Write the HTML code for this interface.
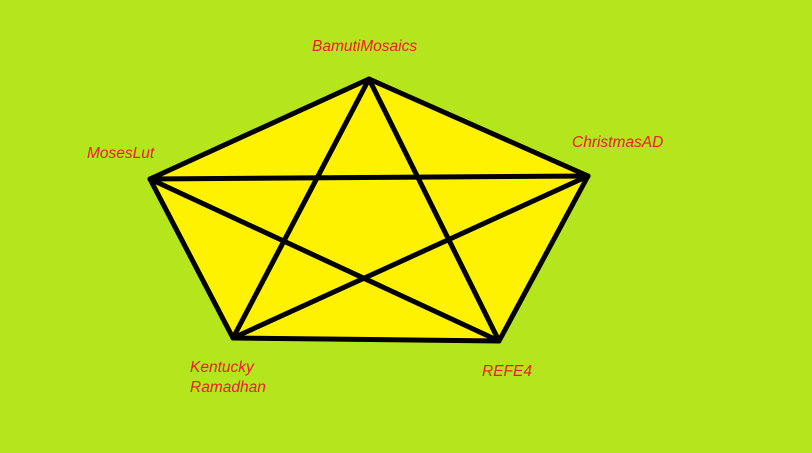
<!DOCTYPE html>
<html><head><meta charset="utf-8"><style>
html,body{margin:0;padding:0;background:#b5e61d;}
svg{display:block}
text{font-family:"Liberation Sans",sans-serif;font-style:italic;font-size:15.5px;fill:#ed1c24}
</style></head><body>
<svg width="812" height="453">
<rect width="812" height="453" fill="#b5e61d"/>
<g id="g"></g>
</svg>
<script>
const names=["BamutiMosaics","ChristmasAD","REFE4","Kentucky Ramadhan","MosesLut"];
const xs=[369,588,499,233,150];
const ys=[79,176,341,338,179];
const ns="http://www.w3.org/2000/svg";
const g=document.getElementById('g');
const poly=document.createElementNS(ns,'polygon');
poly.setAttribute('points',xs.map((x,i)=>x+','+ys[i]).join(' '));
poly.setAttribute('fill','#fff200');
poly.setAttribute('stroke','#000');
poly.setAttribute('stroke-width','5');
poly.setAttribute('stroke-linejoin','round');


g.appendChild(poly);
for(let i=0;i<5;i++){for(let j=i+2;j<5;j++){if(i===0&&j===4)continue;
const l=document.createElementNS(ns,'line');
l.setAttribute('x1',xs[i]);l.setAttribute('y1',ys[i]);l.setAttribute('x2',xs[j]);l.setAttribute('y2',ys[j]);
l.setAttribute('stroke','#000');l.setAttribute('stroke-width','5');l.setAttribute('stroke-linecap','round');


g.appendChild(l);}}
const lx=[312,572,482,190,87];
const ly=[51,147,376,372,158];
for(let i=0;i<5;i++){
const parts=names[i].split(' ');
parts.forEach((p,k)=>{
const t=document.createElementNS(ns,'text');
t.setAttribute('x',lx[i]);t.setAttribute('y',ly[i]+k*20);
t.textContent=p;


g.appendChild(t);});
}
</script>
</body></html>
